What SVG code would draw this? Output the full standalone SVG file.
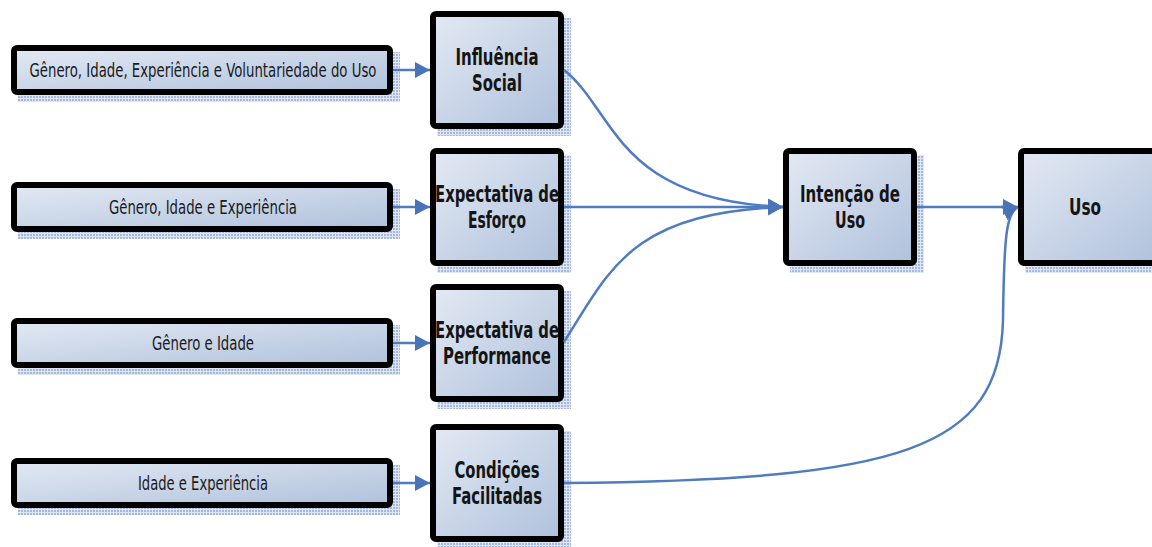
<svg xmlns="http://www.w3.org/2000/svg" width="1152" height="547" viewBox="0 0 1152 547">
  <defs>
    <linearGradient id="boxFill" x1="0" y1="0" x2="1" y2="1">
      <stop offset="0" stop-color="#e3e9f3"/>
      <stop offset="1" stop-color="#afc1dc"/>
    </linearGradient>
    <pattern id="shadowPat" width="3" height="3" patternUnits="userSpaceOnUse">
      <rect width="3" height="3" fill="#d6dff0"/>
      <rect width="2" height="2" fill="#8ea6d2"/>
    </pattern>
    <marker id="arrow" markerUnits="userSpaceOnUse" markerWidth="16" markerHeight="18" viewBox="0 0 16 18" refX="15" refY="9" orient="auto">
      <path d="M0,1 L15,9 L0,17 Z" fill="#4a74b8"/>
    </marker>
    <style>
      .shadow { fill: url(#shadowPat); opacity: 0.8; }
      .box { fill: url(#boxFill); stroke: #000; stroke-width: 6; }
      .small { font-family: "Liberation Sans Narrow", "DejaVu Sans Condensed", "Liberation Sans", sans-serif; font-size: 19px; fill: #1a1a1a; text-anchor: middle; }
      .big { font-family: "Liberation Sans Narrow", "DejaVu Sans Condensed", "Liberation Sans", sans-serif; font-size: 23px; font-weight: bold; fill: #141414; text-anchor: middle; }
      .conn { fill: none; stroke: #4f7bbf; stroke-width: 2.5; marker-end: url(#arrow); }
    </style>
  </defs>
  <rect width="1152" height="547" fill="#ffffff"/>

  <!-- Left moderator boxes -->
  <g id="mod1">
    <rect class="shadow" x="18" y="52" width="382" height="50"/>
    <rect class="box" x="14" y="48" width="376" height="44" rx="3"/>
    <text class="small" x="203" y="77" textLength="347" lengthAdjust="spacingAndGlyphs">Gênero, Idade, Experiência e Voluntariedade do Uso</text>
  </g>
  <g id="mod2">
    <rect class="shadow" x="18" y="189" width="382" height="50"/>
    <rect class="box" x="14" y="185" width="376" height="44" rx="3"/>
    <text class="small" x="203" y="214" textLength="188" lengthAdjust="spacingAndGlyphs">Gênero, Idade e Experiência</text>
  </g>
  <g id="mod3">
    <rect class="shadow" x="18" y="325" width="382" height="50"/>
    <rect class="box" x="14" y="321" width="376" height="44" rx="3"/>
    <text class="small" x="203" y="350" textLength="102" lengthAdjust="spacingAndGlyphs">Gênero e Idade</text>
  </g>
  <g id="mod4">
    <rect class="shadow" x="18" y="465" width="382" height="50"/>
    <rect class="box" x="14" y="461" width="376" height="44" rx="3"/>
    <text class="small" x="203" y="490" textLength="130" lengthAdjust="spacingAndGlyphs">Idade e Experiência</text>
  </g>

  <!-- Middle construct boxes -->
  <g id="influencia">
    <rect class="shadow" x="437" y="18" width="134" height="118"/>
    <rect class="box" x="433" y="14" width="128" height="112" rx="3"/>
    <text class="big" x="497" y="65" textLength="83" lengthAdjust="spacingAndGlyphs">Influência</text>
    <text class="big" x="497" y="91" textLength="50" lengthAdjust="spacingAndGlyphs">Social</text>
  </g>
  <g id="esforco">
    <rect class="shadow" x="437" y="155" width="134" height="118"/>
    <rect class="box" x="433" y="151" width="128" height="112" rx="3"/>
    <text class="big" x="497" y="202" textLength="124" lengthAdjust="spacingAndGlyphs">Expectativa de</text>
    <text class="big" x="497" y="228" textLength="58" lengthAdjust="spacingAndGlyphs">Esforço</text>
  </g>
  <g id="performance">
    <rect class="shadow" x="437" y="291" width="134" height="118"/>
    <rect class="box" x="433" y="287" width="128" height="112" rx="3"/>
    <text class="big" x="497" y="338" textLength="124" lengthAdjust="spacingAndGlyphs">Expectativa de</text>
    <text class="big" x="497" y="364" textLength="108" lengthAdjust="spacingAndGlyphs">Performance</text>
  </g>
  <g id="condicoes">
    <rect class="shadow" x="437" y="431" width="134" height="118"/>
    <rect class="box" x="433" y="427" width="128" height="112" rx="3"/>
    <text class="big" x="497" y="478" textLength="85" lengthAdjust="spacingAndGlyphs">Condições</text>
    <text class="big" x="497" y="504" textLength="90" lengthAdjust="spacingAndGlyphs">Facilitadas</text>
  </g>

  <!-- Right boxes -->
  <g id="intencao">
    <rect class="shadow" x="790" y="155" width="134" height="118"/>
    <rect class="box" x="786" y="151" width="128" height="112" rx="3"/>
    <text class="big" x="850" y="202" textLength="100" lengthAdjust="spacingAndGlyphs">Intenção de</text>
    <text class="big" x="850" y="228" textLength="30" lengthAdjust="spacingAndGlyphs">Uso</text>
  </g>
  <g id="uso">
    <rect class="shadow" x="1025" y="155" width="146" height="118"/>
    <rect class="box" x="1021" y="151" width="140" height="112" rx="3"/>
    <text class="big" x="1085" y="215" textLength="32" lengthAdjust="spacingAndGlyphs">Uso</text>
  </g>

  <!-- Connectors -->
  <g id="connectors">
    <path class="conn" d="M393,70 L430,70"/>
    <path class="conn" d="M393,207 L430,207"/>
    <path class="conn" d="M393,343 L430,343"/>
    <path class="conn" d="M393,483 L430,483"/>
    <path class="conn" d="M564,70 C615,110 615,200 783,207"/>
    <path class="conn" d="M564,207 L783,207"/>
    <path class="conn" d="M564,342 C610,270 630,213 783,207"/>
    <path class="conn" d="M564,483 C900,480 1000,450 1003,320 C1004,240 1006,212 1018,207"/>
    <path class="conn" d="M917,207 L1018,207"/>
  </g>
</svg>
